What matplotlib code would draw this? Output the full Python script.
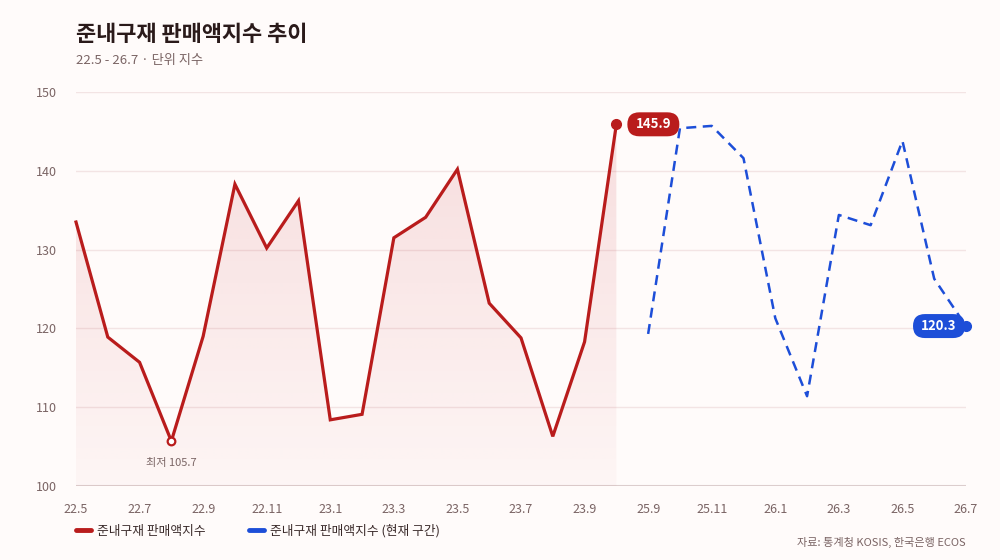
import numpy as np
import matplotlib.pyplot as plt
from matplotlib.patches import Polygon, FancyBboxPatch

plt.rcParams['font.family'] = ['Noto Sans CJK KR', 'DejaVu Sans']

# ---------------------------------------------------------------------------
# Data
# ---------------------------------------------------------------------------
MONTHS = ['22.5', '22.6', '22.7', '22.8', '22.9', '22.10', '22.11', '22.12',
          '23.1', '23.2', '23.3', '23.4', '23.5', '23.6', '23.7', '23.8',
          '23.9', '23.10',
          '25.9', '25.10', '25.11', '25.12', '26.1', '26.2', '26.3', '26.4',
          '26.5', '26.6', '26.7']
PAST_VALUES = [133.5, 118.9, 115.7, 105.7, 119.0, 138.3, 130.2, 136.2,
               108.4, 109.1, 131.5, 134.1, 140.2, 123.2, 118.8, 106.3,
               118.3, 145.9]
CURRENT_VALUES = [119.3, 145.4, 145.7, 141.6, 121.3, 111.4, 134.4, 133.1,
                  143.8, 126.3, 120.3]
Y_TICKS = [100, 110, 120, 130, 140, 150]

RED = '#b91c1c'
BLUE = '#1d4ed8'
BG = '#fffbfa'
TEXT_DARK = '#2a1a1a'
TEXT_MUTED = '#7a6464'

fig = plt.figure(figsize=(10, 5.6), dpi=100, facecolor=BG)
ax = fig.add_axes([0.076, 0.1321, 0.890, 0.7036], facecolor=BG)

n_past = len(PAST_VALUES)
x_past = np.arange(n_past)
x_cur = np.arange(n_past, n_past + len(CURRENT_VALUES))

ax.set_xlim(0, len(MONTHS) - 1)
ax.set_ylim(100, 150)

# gridlines
for yv in Y_TICKS[1:]:
    ax.axhline(yv, color='#f3e4e4', lw=1, zorder=0)
ax.axhline(100, color='#dccdcd', lw=1.5, zorder=1)

# gradient fill under past series
grad = np.linspace(0.17, 0.03, 256).reshape(-1, 1)
rgba = np.zeros((256, 1, 4))
rgba[..., 0] = 0.80
rgba[..., 1] = 0.25
rgba[..., 2] = 0.28
rgba[..., 3] = grad
im = ax.imshow(rgba, aspect='auto', extent=[0, n_past - 1, 100, 150],
               origin='upper', zorder=1, interpolation='bilinear')
verts = [(0, 100)] + list(zip(x_past, PAST_VALUES)) + [(n_past - 1, 100)]
clip = Polygon(verts, closed=True, transform=ax.transData, facecolor='none',
               edgecolor='none')
ax.add_patch(clip)
im.set_clip_path(clip)

ax.plot(x_past, PAST_VALUES, color=RED, lw=2.3, solid_joinstyle='miter',
        zorder=3, clip_on=False, label='준내구재 판매액지수')
ax.plot(x_cur, CURRENT_VALUES, color=BLUE, lw=1.8, ls=(0, (4, 2.6)),
        zorder=3, clip_on=False, label='준내구재 판매액지수 (현재 구간)')

# minimum marker
i_min = int(np.argmin(PAST_VALUES))
ax.plot(x_past[i_min], PAST_VALUES[i_min], 'o', ms=5.5, mfc='white',
        mec=RED, mew=1.6, zorder=4)
ax.annotate(f'최저 {PAST_VALUES[i_min]}', (x_past[i_min], PAST_VALUES[i_min]),
            xytext=(0, -12), textcoords='offset points', ha='center',
            va='top', fontsize=8, color=TEXT_MUTED)


def pill_label(x, y, text, color, dx_px, w_px=52, h_px=24):
    """Rounded value badge centred dx_px pixels right of a data point."""
    px, py = ax.transData.transform((x, y))
    cx = px + dx_px
    box = FancyBboxPatch((cx - w_px / 2, py - h_px / 2), w_px, h_px,
                         boxstyle=f'round,pad=0,rounding_size={h_px / 2}',
                         fc=color, ec='none', transform=None, zorder=5)
    fig.patches.append(box)
    fig.text(cx / fig.bbox.width, py / fig.bbox.height, text,
             ha='center', va='center', fontsize=9.5, color='white',
             fontweight='semibold', zorder=6)


# end-of-past marker + label
ax.plot(x_past[-1], PAST_VALUES[-1], 'o', ms=7, color=RED, zorder=4)
pill_label(x_past[-1], PAST_VALUES[-1], f'{PAST_VALUES[-1]}', RED, 37)

# last current marker + label
ax.plot(x_cur[-1], CURRENT_VALUES[-1], 'o', ms=7, color=BLUE, zorder=4,
        clip_on=False)
pill_label(x_cur[-1], CURRENT_VALUES[-1], f'{CURRENT_VALUES[-1]}', BLUE, -27)

# axes styling
ax.set_xticks(np.arange(0, len(MONTHS), 2))
ax.set_xticklabels(MONTHS[::2])
ax.set_yticks(Y_TICKS)
ax.tick_params(axis='both', length=0, labelsize=9, colors=TEXT_MUTED)
ax.tick_params(axis='x', pad=12)
ax.tick_params(axis='y', pad=14)
for s in ax.spines.values():
    s.set_visible(False)

# legend
leg = ax.legend(loc='upper left', bbox_to_anchor=(-0.013, -0.068), ncol=2,
                frameon=False, fontsize=9.2, handlelength=1.2,
                columnspacing=3.4, handletextpad=0.45)
for h in leg.get_lines():
    h.set_linestyle('-')
    h.set_linewidth(3.5)
    h.set_solid_capstyle('round')
for t in leg.get_texts():
    t.set_color('#3a2a2a')

# titles
fig.text(0.076, 0.938, '준내구재 판매액지수 추이', fontsize=15.8,
         fontweight='bold', color=TEXT_DARK, va='center')
fig.text(0.076, 0.892, '22.5 - 26.7 · 단위 지수', fontsize=9.5,
         color=TEXT_MUTED, va='center')
fig.text(0.966, 0.032, '자료: 통계청 KOSIS, 한국은행 ECOS', fontsize=8,
         color=TEXT_MUTED, ha='right', va='center')

fig.savefig('out.png', dpi=100, facecolor=BG)
